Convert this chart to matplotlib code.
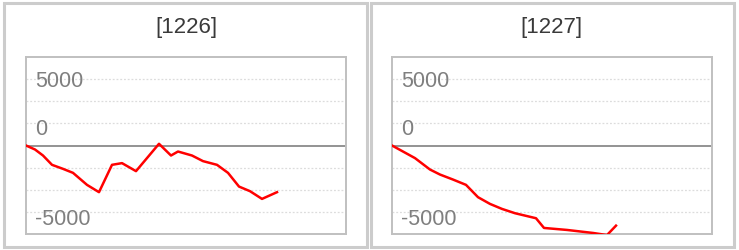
import matplotlib
matplotlib.use("Agg")
import matplotlib.pyplot as plt
from matplotlib.patches import Rectangle

plt.rcParams['font.family'] = ['Liberation Sans', 'DejaVu Sans']

titles = ["[1226]", "[1227]"]

# x positions (time units) and cumulative values for each panel
t_1226 = [0, 9, 17, 26, 37, 47, 61, 73, 86, 96, 110, 133, 145, 152, 166, 177, 191, 202, 213, 224, 236, 251]
v_1226 = [0, -226, -566, -1092, -1319, -1545, -2224, -2637, -1092, -996, -1449, 96, -566, -340, -566,
          -883, -1092, -1545, -2320, -2581, -3017, -2637]

t_1227 = [0, 23, 38, 48, 61, 74, 86, 98, 110, 123, 144, 152, 175, 201, 215, 224]
v_1227 = [0, -713, -1358, -1641, -1924, -2224, -2920, -3300, -3583, -3826, -4109, -4658, -4771, -4941,
          -5060, -4528]

tick_labels = ["5000", "0", "-5000"]
tick_label_y = [3379, 662, -4432]
grid_vals = [3750, 2500, 1250, -1250, -2500, -3750]

W, H = 739, 251
fig = plt.figure(figsize=(W / 100, H / 100), dpi=100)

# panel borders
for (x0, x1) in [(3.5, 366.5), (371.5, 734)]:
    fig.patches.append(Rectangle((x0 / W, 1 - 247.5 / H), (x1 - x0) / W, (247.5 - 4) / H,
                                 transform=fig.transFigure, fill=False,
                                 edgecolor='#cccccc', linewidth=2.2))

panels = [(26, t_1226, v_1226, 186), (392, t_1227, v_1227, 551)]
for i, (left, t, v, tx) in enumerate(panels):
    ax = fig.add_axes([left / W, (H - 235) / H, 320 / W, 177 / H])
    ax.set_xlim(0, 320)
    ax.set_ylim(-5000, 5000)
    for g in grid_vals:
        ax.axhline(g, color='#dcdcdc', linewidth=0.9, linestyle=(0, (1.5, 1.5)), zorder=1)
    ax.axhline(0, color='#8a8a8a', linewidth=1.3, zorder=2)
    ax.plot(t, v, color='#ff0000', linewidth=1.8, zorder=3, solid_joinstyle='round')
    for lab, y in zip(tick_labels, tick_label_y):
        ax.text(9 / 320, y, lab, transform=ax.get_yaxis_transform(), ha='left', va='baseline',
                fontsize=15.5, color='#7f7f7f', zorder=4)
    ax.set_xticks([])
    ax.set_yticks([])
    for s in ax.spines.values():
        s.set_color('#c0c0c0')
        s.set_linewidth(1.4)
    fig.text(tx / W, 1 - 33.3 / H, titles[i], ha='center', va='baseline', fontsize=16, color='#3a3a3a')

fig.savefig('out.png', dpi=100)
